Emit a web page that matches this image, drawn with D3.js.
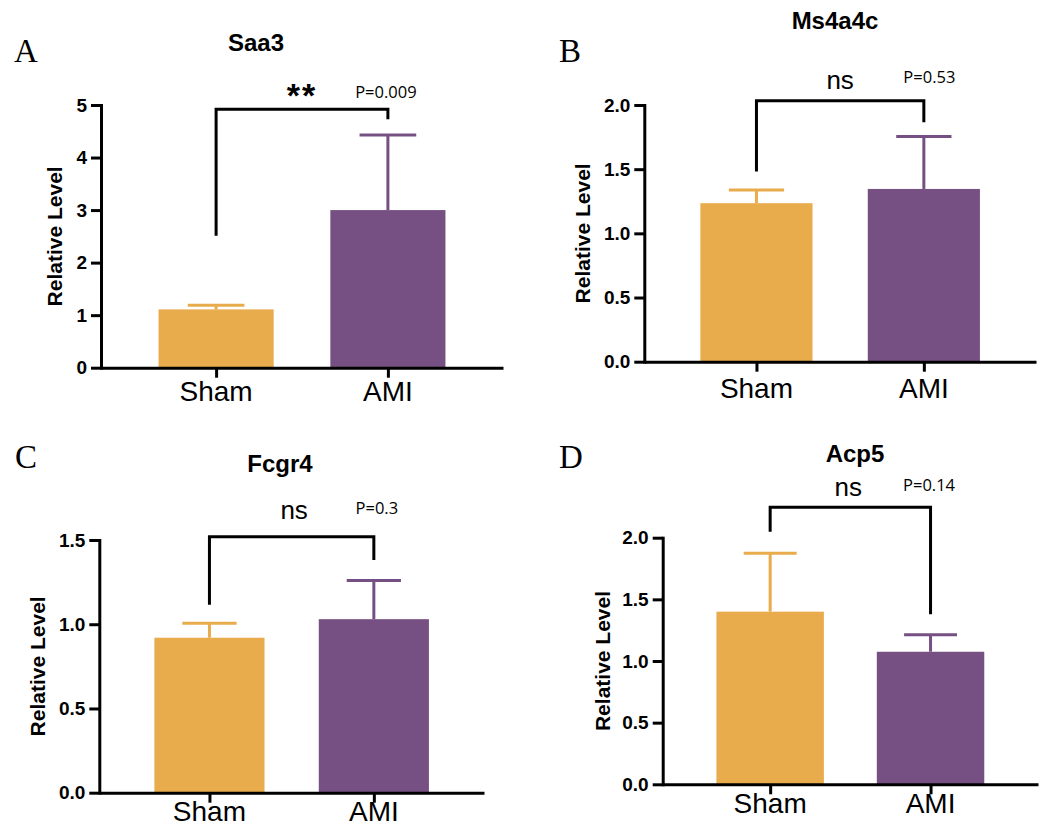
<!DOCTYPE html>
<html>
<head>
<meta charset="utf-8">
<script src="https://cdn.jsdelivr.net/npm/d3@7"></script>
<style>
  html, body { margin: 0; padding: 0; background: #fff; }
  svg { display: block; }
</style>
</head>
<body>
<svg id="chart" width="1044" height="828"></svg>
<script>
// ---------------- DATA ----------------
const panelLetters = ["A", "B", "C", "D"];
const genes = ["Saa3", "Ms4a4c", "Fcgr4", "Acp5"];
const groups = ["Sham", "AMI"];
const meanValues = [
  [1.11, 3.00],
  [1.235, 1.346],
  [0.92, 1.03],
  [1.40, 1.075]
];
const errorValues = [
  [0.08, 1.43],
  [0.103, 0.408],
  [0.086, 0.229],
  [0.473, 0.138]
];
const yMaxValues = [5, 2, 1.5, 2];
const yTickValues = [
  [0, 1, 2, 3, 4, 5],
  [0, 0.5, 1.0, 1.5, 2.0],
  [0, 0.5, 1.0, 1.5],
  [0, 0.5, 1.0, 1.5, 2.0]
];
const yTickFormats = ["d", ".1f", ".1f", ".1f"];
const sigLabels = ["**", "ns", "ns", "ns"];
const pLabels = ["P=0.009", "P=0.53", "P=0.3", "P=0.14"];
// bracket: [top level, left leg end, right leg end] in data units
const bracketLevels = [
  [4.92, 2.51, 4.73],
  [2.034, 1.481, 1.866],
  [1.52, 1.115, 1.382],
  [2.246, 2.049, 1.379]
];
const yLabel = "Relative Level";

// ---------------- LAYOUT ----------------
const layout = [
  { ax: 101,   ae: 503,  y0: 367.7, yt: 105,   title: [256, 51],  letter: [14, 62],  ylx: 55,  xlDy: 33, sigY: 107,   sigDx: 0,  pY: 98.3,  pDx: -2 },
  { ax: 644.3, ae: 1036, y0: 361.7, yt: 105,   title: [835, 29],  letter: [559, 62], ylx: 583, xlDy: 36, sigY: 89,    sigDx: 0,  pY: 83,    pDx: 5.5 },
  { ax: 99.3,  ae: 484,  y0: 792.7, yt: 540,   title: [280, 472], letter: [15, 468], ylx: 38,  xlDy: 28, sigY: 519.3, sigDx: 2.5, pY: 514,  pDx: 3 },
  { ax: 662.7, ae: 1038, y0: 784.3, yt: 537.7, title: [855, 461.7], letter: [559, 468], ylx: 603, xlDy: 29, sigY: 496, sigDx: -2, pY: 490.7, pDx: -1.5 }
];
const colors = ["#E8AC4C", "#765082"];
const sans = "'Liberation Sans', Arial, sans-serif";

const svg = d3.select("#chart");
svg.append("rect").attr("width", 1044).attr("height", 828).attr("fill", "#fff");

genes.forEach((gene, i) => {
  const L = layout[i];
  const g = svg.append("g");

  const y = d3.scaleLinear().domain([0, yMaxValues[i]]).range([L.y0, L.yt]);
  const x = d3.scalePoint().domain(groups).range([L.ax, L.ae]).padding(0.67);
  const step = x.step();
  const barW = step * 0.67;
  const capW = step * 0.33;

  // bars
  g.selectAll("rect.bar").data(groups).join("rect")
    .attr("class", "bar")
    .attr("x", d => x(d) - barW / 2)
    .attr("y", (d, j) => y(meanValues[i][j]))
    .attr("width", barW)
    .attr("height", (d, j) => L.y0 - y(meanValues[i][j]))
    .attr("fill", (d, j) => colors[j]);

  // error bars
  groups.forEach((grp, j) => {
    const top = y(meanValues[i][j] + errorValues[i][j]);
    g.append("line")
      .attr("x1", x(grp)).attr("x2", x(grp))
      .attr("y1", y(meanValues[i][j])).attr("y2", top)
      .attr("stroke", colors[j]).attr("stroke-width", 3);
    g.append("line")
      .attr("x1", x(grp) - capW / 2).attr("x2", x(grp) + capW / 2)
      .attr("y1", top).attr("y2", top)
      .attr("stroke", colors[j]).attr("stroke-width", 3);
  });

  // y axis
  const yAxis = d3.axisLeft(y).tickValues(yTickValues[i])
    .tickFormat(d3.format(yTickFormats[i])).tickSize(10).tickSizeOuter(0).tickPadding(4);
  const ya = g.append("g").attr("transform", `translate(${L.ax},0)`).call(yAxis);
  ya.select(".domain").attr("stroke", "#000").attr("stroke-width", 3).attr("stroke-linecap", "square");
  ya.selectAll(".tick line").attr("stroke", "#000").attr("stroke-width", 3);
  ya.selectAll(".tick text").attr("fill", "#000")
    .style("font-family", sans).style("font-size", "19px").style("font-weight", "bold");

  // x axis
  const xAxis = d3.axisBottom(x).tickSize(10).tickSizeOuter(0).tickFormat(() => "");
  const xa = g.append("g").attr("transform", `translate(0,${L.y0})`).call(xAxis);
  xa.select(".domain").attr("stroke", "#000").attr("stroke-width", 3);
  xa.selectAll(".tick line").attr("stroke", "#000").attr("stroke-width", 3);

  // x labels
  g.selectAll("text.xl").data(groups).join("text")
    .attr("class", "xl")
    .attr("x", d => x(d))
    .attr("y", L.y0 + L.xlDy)
    .attr("text-anchor", "middle")
    .style("font-family", sans).style("font-size", "28px")
    .text(d => d);

  // y label
  g.append("text")
    .attr("transform", `translate(${L.ylx},${(L.y0 + L.yt) / 2}) rotate(-90)`)
    .attr("text-anchor", "middle")
    .attr("dy", "0.35em")
    .style("font-family", sans).style("font-size", "21px").style("font-weight", "bold")
    .text(yLabel);

  // title
  g.append("text")
    .attr("x", L.title[0]).attr("y", L.title[1])
    .attr("text-anchor", "middle")
    .style("font-family", sans).style("font-size", "24px").style("font-weight", "bold")
    .text(gene);

  // panel letter
  g.append("text")
    .attr("x", L.letter[0]).attr("y", L.letter[1])
    .style("font-family", "'Liberation Serif', 'Times New Roman', serif").style("font-size", "33px")
    .text(panelLetters[i]);

  // bracket
  const b = bracketLevels[i];
  const x1 = x(groups[0]), x2 = x(groups[1]);
  g.append("path")
    .attr("d", `M${x1},${y(b[1])}V${y(b[0])}H${x2}V${y(b[2])}`)
    .attr("fill", "none").attr("stroke", "#000").attr("stroke-width", 3);

  // significance label
  g.append("text")
    .attr("x", (x1 + x2) / 2 + L.sigDx).attr("y", L.sigY)
    .attr("text-anchor", "middle")
    .style("font-family", sans)
    .style("font-size", sigLabels[i] === "**" ? "34px" : "26px")
    .style("font-weight", sigLabels[i] === "**" ? "bold" : "normal")
    .style("letter-spacing", sigLabels[i] === "**" ? "2px" : "0px")
    .text(sigLabels[i]);

  // p value
  g.append("text")
    .attr("x", x2 + L.pDx).attr("y", L.pY)
    .attr("text-anchor", "middle")
    .style("font-family", "'Open Sans', sans-serif").style("font-size", "16.5px")
    .text(pLabels[i]);
});
</script>
</body>
</html>
